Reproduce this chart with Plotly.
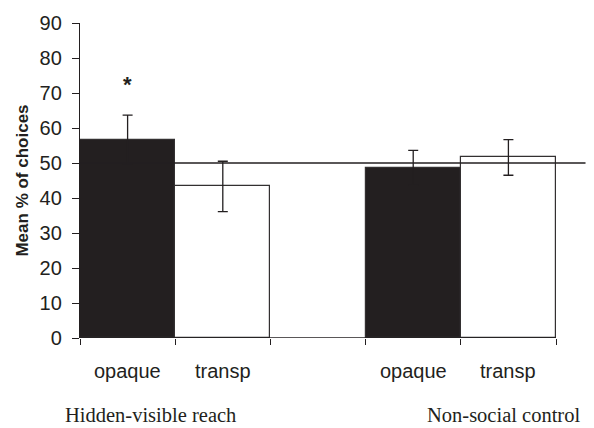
import plotly.graph_objects as go

# Data
slots = [0.5, 1.5, 3.5, 4.5]
bar_labels = ["opaque", "transp", "opaque", "transp"]
means = [56.7, 43.3, 48.6, 51.6]
errors = [7.0, 7.2, 5.0, 5.1]
fills = ["#231f20", "#ffffff", "#231f20", "#ffffff"]
groups = ["Hidden-visible reach", "Non-social control"]
group_pos = [0.74, 4.45]
chance_level = 50
y_ticks = [0, 10, 20, 30, 40, 50, 60, 70, 80, 90]

fig = go.Figure()
fig.add_trace(go.Bar(
    x=slots, y=means, width=1.0,
    marker=dict(color=fills, line=dict(color="#333031", width=1.2)),
    error_y=dict(type="data", array=errors, color="#231f20", thickness=1.3, width=5),
    showlegend=False,
))

shapes = [
    dict(type="line", xref="x", yref="y", x0=0, x1=5, y0=0, y1=0,
         line=dict(color="#231f20", width=1.3)),
    dict(type="line", xref="x", yref="y", x0=0, x1=5.31, y0=chance_level, y1=chance_level,
         line=dict(color="#231f20", width=1.3)),
]
fig.update_layout(shapes=shapes)

annotations = []
for xv, t in zip(slots, bar_labels):
    annotations.append(dict(x=xv, y=0, xref="x", yref="y", text=t, showarrow=False,
                            yanchor="middle", yshift=-33,
                            font=dict(family="Liberation Sans, Arial", size=20, color="#231f20")))
for xv, t in zip(group_pos, groups):
    annotations.append(dict(x=xv, y=0, xref="x", yref="y", text=t, showarrow=False,
                            yanchor="middle", yshift=-77, borderpad=0,
                            font=dict(family="Liberation Serif, Times New Roman", size=20.5, color="#231f20")))
annotations.append(dict(x=slots[0], y=72.5, xref="x", yref="y", text="<b>*</b>", showarrow=False,
                        font=dict(family="Liberation Sans, Arial", size=22, color="#231f20")))
fig.update_layout(annotations=annotations)

fig.update_xaxes(range=[0, 5.315], tickvals=[0, 1, 2, 3, 4, 5], ticktext=["", "", "", "", "", ""],
                 ticks="outside", ticklen=6, tickcolor="#231f20", tickwidth=1.2,
                 showline=False, showgrid=False, zeroline=False, automargin=False)
fig.update_yaxes(range=[0, 90], tickvals=y_ticks, ticks="outside", ticklen=7,
                 tickcolor="#231f20", tickwidth=1.2, showline=True, linecolor="#231f20",
                 linewidth=1.3, showgrid=False, zeroline=False, automargin=False,
                 ticklabelstandoff=6,
                 tickfont=dict(family="Liberation Sans, Arial", size=20, color="#231f20"),
                 title=dict(text="<b>Mean % of choices</b>", standoff=6,
                            font=dict(family="Liberation Sans, Arial", size=17, color="#231f20")))

fig.update_layout(
    width=594, height=428,
    margin=dict(l=80, r=8, t=23, b=90),
    plot_bgcolor="white", paper_bgcolor="white",
    bargap=0,
)
fig.write_html("out.html", config={"displayModeBar": False},
               post_script="document.body.style.margin='0';document.body.style.overflow='hidden';")
